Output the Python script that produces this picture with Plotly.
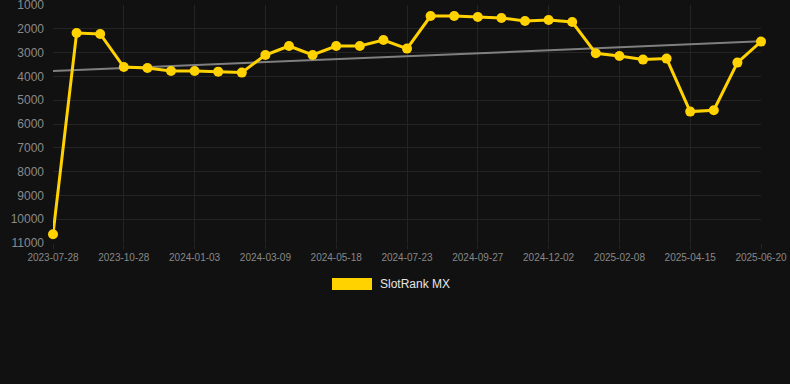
import numpy as np
import plotly.graph_objects as go

dates = [
    "2023-07-28", "2023-08-28", "2023-09-28", "2023-10-28", "2023-11-20", "2023-12-12",
    "2024-01-03", "2024-01-25", "2024-02-16", "2024-03-09", "2024-04-01", "2024-04-24",
    "2024-05-18", "2024-06-09", "2024-07-01", "2024-07-23", "2024-08-14", "2024-09-05",
    "2024-09-27", "2024-10-19", "2024-11-10", "2024-12-02", "2024-12-25", "2025-01-16",
    "2025-02-08", "2025-03-02", "2025-03-24", "2025-04-15", "2025-05-07", "2025-05-29",
    "2025-06-20",
]
rank_mx = [
    10630, 2176, 2218, 3605, 3647, 3773, 3773, 3800, 3840, 3100, 2722, 3100,
    2722, 2722, 2470, 2832, 1462, 1462, 1504, 1546, 1672, 1630, 1714, 3029,
    3143, 3294, 3252, 5479, 5424, 3420, 2538,
]
y_ticks = [1000, 2000, 3000, 4000, 5000, 6000, 7000, 8000, 9000, 10000, 11000]
x_tick_labels = dates[::3]
series_name = "SlotRank MX"

# linear trend of the series
idx = np.arange(len(rank_mx))
slope, intercept = np.polyfit(idx, rank_mx, 1)
trend = slope * idx + intercept

GOLD = "#FFD200"
BG = "#111111"
FONT = "Liberation Sans, Arial, sans-serif"

fig = go.Figure()
fig.add_trace(go.Scatter(
    x=dates, y=trend, mode="lines",
    line=dict(color="rgba(140,140,140,0.9)", width=2),
    hoverinfo="skip", showlegend=False,
))
fig.add_trace(go.Scatter(
    x=dates, y=rank_mx, mode="lines+markers", name=series_name,
    line=dict(color=GOLD, width=3),
    marker=dict(color=GOLD, size=10),
    cliponaxis=False, showlegend=False,
))

fig.update_layout(
    width=790, height=384,
    paper_bgcolor=BG, plot_bgcolor=BG,
    margin=dict(l=53, r=29, t=5, b=141, autoexpand=False),
    font=dict(family=FONT, color="#8a8a8a"),
    showlegend=False,
    xaxis=dict(
        type="category", range=[0, len(dates) - 1],
        tickmode="array", tickvals=x_tick_labels, ticktext=x_tick_labels,
        tickfont=dict(size=10, color="#888888"),
        showgrid=True, gridcolor="#242424", gridwidth=1,
        ticks="outside", ticklen=5, tickcolor="#242424",
        zeroline=False, showline=False,
        ticklabeloverflow="allow", automargin=False,
    ),
    yaxis=dict(
        range=[11000, 1000], autorange=False,
        tickmode="array", tickvals=y_ticks,
        ticktext=[str(v) for v in y_ticks],
        tickfont=dict(size=12, color="#8a8a8a"),
        showgrid=True, gridcolor="#242424", gridwidth=1,
        ticks="", zeroline=False, showline=False,
        ticklabeloverflow="allow", automargin=False,
        ticklabelstandoff=8,
    ),
    shapes=[dict(
        type="rect", xref="paper", yref="paper",
        x0=(332 - 53) / 708, x1=(372 - 53) / 708,
        y0=(243 - 290) / 238, y1=(243 - 278) / 238,
        fillcolor=GOLD, line=dict(width=0),
    )],
    annotations=[dict(
        text=series_name, xref="paper", yref="paper",
        x=(378 - 53) / 708, y=(243 - 284) / 238,
        xanchor="left", yanchor="middle", showarrow=False,
        font=dict(family=FONT, size=12, color="#e6e6e6"),
    )],
)

fig.write_html(
    "out.html",
    config={"displayModeBar": False},
    post_script="document.body.style.margin='0';document.body.style.background='#111111';",
)
